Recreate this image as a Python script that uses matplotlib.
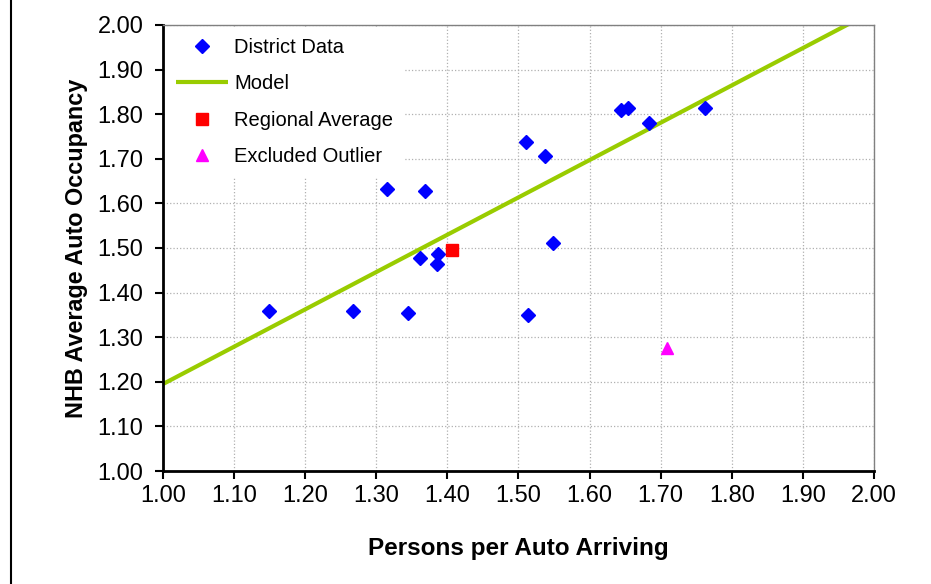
import matplotlib
matplotlib.use("Agg")
import matplotlib.pyplot as plt
from matplotlib.lines import Line2D

plt.rcParams['font.family'] = ['Liberation Sans', 'DejaVu Sans']

district_x = [1.149, 1.267, 1.345, 1.315, 1.368, 1.361, 1.387, 1.385,
              1.511, 1.537, 1.548, 1.513, 1.644, 1.654, 1.683, 1.763]
district_y = [1.358, 1.358, 1.354, 1.632, 1.628, 1.478, 1.487, 1.464,
              1.738, 1.707, 1.511, 1.350, 1.809, 1.815, 1.780, 1.815]
model_x = [1.00, 2.00]
model_y = [1.195, 2.032]
regional_x = [1.406]
regional_y = [1.496]
outlier_x = [1.709]
outlier_y = [1.276]
ticks = [1.00, 1.10, 1.20, 1.30, 1.40, 1.50, 1.60, 1.70, 1.80, 1.90, 2.00]
tick_labels = [f"{t:.2f}" for t in ticks]

fig = plt.figure(figsize=(9.31, 5.84), dpi=100)
ax = fig.add_axes([163/931, 1-471/584, (874-163)/931, (471-25)/584])

ax.plot(district_x, district_y, linestyle='none', marker='D', ms=6.8,
        color='#0000FF', label='District Data', zorder=3)
ax.plot(model_x, model_y, color='#99CC00', lw=3, label='Model', zorder=2,
        solid_capstyle='butt')
ax.plot(regional_x, regional_y, linestyle='none', marker='s', ms=8,
        color='#FF0000', label='Regional Average', zorder=3)
ax.plot(outlier_x, outlier_y, linestyle='none', marker='^', ms=9,
        color='#FF00FF', label='Excluded Outlier', zorder=3)

ax.set_xlim(1.0, 2.0)
ax.set_ylim(1.0, 2.0)
ax.set_xticks(ticks)
ax.set_xticklabels(tick_labels)
ax.set_yticks(ticks)
ax.set_yticklabels(tick_labels)
ax.tick_params(axis='both', direction='out', length=6, width=1.5,
               labelsize=17, color='black')
ax.tick_params(axis='x', pad=4)
ax.tick_params(axis='y', pad=8)
ax.grid(True, color='#b0b0b0', linestyle=':', linewidth=0.9)
ax.set_axisbelow(True)

for s in ['left', 'bottom']:
    ax.spines[s].set_color('black')
    ax.spines[s].set_linewidth(2)
for s in ['top', 'right']:
    ax.spines[s].set_color('#808080')
    ax.spines[s].set_linewidth(1)

ax.set_xlabel('Persons per Auto Arriving', fontsize=17.5, fontweight='bold', labelpad=22)
ax.set_ylabel('NHB Average Auto Occupancy', fontsize=16.8, fontweight='bold', labelpad=7)

leg = ax.legend(loc='upper left', fontsize=14.5, frameon=True, fancybox=False,
                borderaxespad=0.1, handlelength=2.6, handletextpad=0.3,
                labelspacing=0.86, borderpad=0.55)
leg.get_frame().set_facecolor('white')
leg.get_frame().set_edgecolor('none')
leg.get_frame().set_alpha(1)

fig.add_artist(Line2D([10.5/931, 10.5/931], [0, 1], color='black', lw=1.5,
                      transform=fig.transFigure))

fig.savefig('out.png', dpi=100)
